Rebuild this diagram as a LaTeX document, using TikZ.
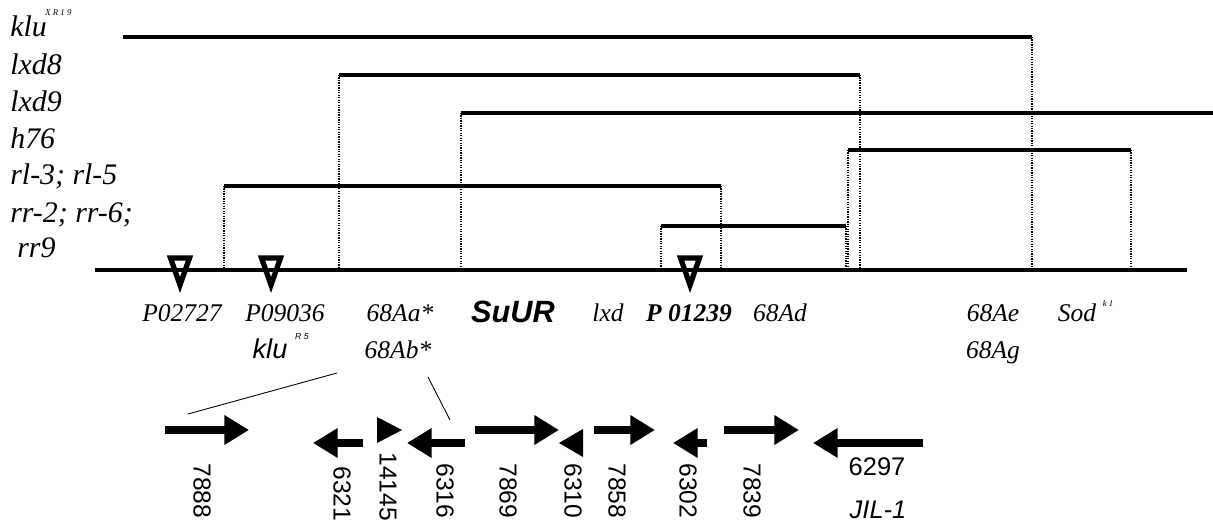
\documentclass[tikz,border=0pt]{standalone}
\usepackage{fontspec}
\setmainfont{Liberation Serif}
\setsansfont{Liberation Sans}
\usetikzlibrary{arrows.meta}
\definecolor{ink}{HTML}{000000}
\tikzset{
  strain/.style={font=\fontsize{17}{19}\selectfont\itshape, anchor=base west, inner sep=0pt},
  locus/.style={font=\fontsize{14.5}{17}\selectfont\itshape, anchor=base, inner sep=0pt},
  locusb/.style={font=\fontsize{14.5}{17}\selectfont\bfseries\itshape, anchor=base, inner sep=0pt},
  locussf/.style={font=\fontsize{15.5}{17}\selectfont\sffamily\itshape, anchor=base, inner sep=0pt},
  allele/.style={font=\fontsize{5}{6}\selectfont\itshape, inner sep=0pt},
  chrom/.style={draw=ink, line width=2.4pt},
  deletion/.style={draw=ink, line width=2pt},
  breakpt/.style={draw=ink, line width=1.3pt, dash pattern=on 0.7pt off 0.7pt},
  pinsert/.style={draw=ink, line width=3pt, miter limit=10},
  guide/.style={draw=ink, line width=0.5pt},
  gene/.style={draw=ink, line width=4pt, -{Triangle[length=14pt, width=16pt]}},
  stub/.style={fill=ink},
  cdna/.style={font=\fontsize{14}{16}\selectfont\sffamily, rotate=-90, anchor=west, inner sep=0pt}
}

\begin{document}
\begin{tikzpicture}[x=0.02cm, y=-0.02cm]
  \useasboundingbox (0,0) rectangle (1213,523);

  % ---- Deficiency names ----------------------------------------------------
  \node[strain] (klu)  at (10,37)  {klu};
  \node[allele, anchor=west] (kluxr) at (45,13) {X R 1 9};
  \node[strain] (lxd8) at (10,75)  {lxd8};
  \node[strain] (lxd9) at (10,112) {lxd9};
  \node[strain] (h76)  at (10,149) {h76};
  \node[strain] (rl)   at (10,185) {rl-3; rl-5};
  \node[strain] (rr)   at (10,223) {rr-2; rr-6;};
  \node[strain] (rr9)  at (17,258) {rr9};

  % ---- Chromosome ----------------------------------------------------------
  \draw[chrom] (95,270) -- (1187,270);

  % ---- Deleted segments ----------------------------------------------------
  \draw[deletion] (123,37) -- (1032,37);
  \draw[breakpt]  (1032,37) -- (1032,270);

  \draw[deletion] (339,75) -- (860,75);
  \draw[breakpt]  (339,75) -- (339,270);
  \draw[breakpt]  (860,75) -- (860,270);

  \draw[deletion] (461,113) -- (1213,113);
  \draw[breakpt]  (461,113) -- (461,270);

  \draw[deletion] (848,150) -- (1131,150);
  \draw[breakpt]  (848,150) -- (848,270);
  \draw[breakpt]  (1131,150) -- (1131,270);

  \draw[deletion] (224,186) -- (721,186);
  \draw[breakpt]  (224,186) -- (224,270);
  \draw[breakpt]  (721,186) -- (721,270);

  \draw[deletion] (661,226) -- (846,226);
  \draw[breakpt]  (661,226) -- (661,270);
  \draw[breakpt]  (846,226) -- (846,270);

  % ---- P insertions --------------------------------------------------------
  \draw[pinsert] (170.5,258) -- (189.5,258) -- (180,285) -- cycle;
  \draw[pinsert] (261.5,258) -- (280.5,258) -- (271,285) -- cycle;
  \draw[pinsert] (680.5,258) -- (699.5,258) -- (690,285) -- cycle;

  % ---- Loci under the map --------------------------------------------------
  \node[locus]   (p02727) at (182,322) {P02727};
  \node[locus]   (p09036) at (285,322) {P09036};
  \node[locussf] (klur5)  at (270,358) {klu};
  \node[allele, font=\fontsize{5}{6}\selectfont\sffamily\itshape] (r5) at (302,337) {R 5};
  \node[locus]   (aa)     at (400,322) {68Aa*};
  \node[locus]   (ab)     at (398,358) {68Ab*};
  \node[font=\fontsize{17.5}{20}\selectfont\sffamily\bfseries\itshape, anchor=base, inner sep=0pt]
                 (suur)   at (513,323) {SuUR};
  \node[locus]   (lxd)    at (608,322) {lxd};
  \node[locusb]  (p01239) at (689,322) {P 01239};
  \node[locus]   (ad)     at (780,322) {68Ad};
  \node[locus]   (ae)     at (993,322) {68Ae};
  \node[locus]   (ag)     at (993,358) {68Ag};
  \node[locus]   (sod)    at (1077,322) {Sod};
  \node[allele]  (sodk1)  at (1108,303) {k 1};

  % ---- Zoom guides ---------------------------------------------------------
  \coordinate (zl1) at (337,373);
  \coordinate (zl2) at (188,414);
  \coordinate (zr1) at (428,377);
  \coordinate (zr2) at (450,420);
  \draw[guide] (zl1) -- (zl2);
  \draw[guide] (zr1) -- (zr2);

  % ---- Transcripts ---------------------------------------------------------
  \coordinate (t7888a) at (165,430);  \coordinate (t7888b) at (249,430);
  \coordinate (t6321a) at (363,443);  \coordinate (t6321b) at (313,443);
  \coordinate (t6316a) at (465,443);  \coordinate (t6316b) at (407,443);
  \coordinate (t7869a) at (475,430);  \coordinate (t7869b) at (559,430);
  \coordinate (t7858a) at (594,430);  \coordinate (t7858b) at (655,430);
  \coordinate (t6302a) at (707,443);  \coordinate (t6302b) at (673,443);
  \coordinate (t7839a) at (724,430);  \coordinate (t7839b) at (799,430);
  \coordinate (t6297a) at (923,443);  \coordinate (t6297b) at (813,443);

  \draw[gene] (t7888a) -- (t7888b);
  \draw[gene] (t6321a) -- (t6321b);
  \draw[gene] (t6316a) -- (t6316b);
  \draw[gene] (t7869a) -- (t7869b);
  \draw[gene] (t7858a) -- (t7858b);
  \draw[gene] (t6302a) -- (t6302b);
  \draw[gene] (t7839a) -- (t7839b);
  \draw[gene] (t6297a) -- (t6297b);

  % short ones: head only
  \fill[stub] (377,417) -- (402,430) -- (377,443) -- cycle;
  \fill[stub] (559,443) -- (583,429) -- (583,457) -- cycle;

  % ---- cDNA numbers --------------------------------------------------------
  \node[cdna] (c7888)  at (202,463) {7888};
  \node[cdna] (c6321)  at (342,466) {6321};
  \node[cdna] (c14145) at (388,452) {14145};
  \node[cdna] (c6316)  at (445,463) {6316};
  \node[cdna] (c7869)  at (508,463) {7869};
  \node[cdna] (c6310)  at (573,463) {6310};
  \node[cdna] (c7858)  at (617,463) {7858};
  \node[cdna] (c6302)  at (688,463) {6302};
  \node[cdna] (c7839)  at (752,463) {7839};
  \node[font=\fontsize{14.5}{16}\selectfont\sffamily, inner sep=0pt] (c6297) at (877,467) {6297};
  \node[font=\fontsize{14.5}{16}\selectfont\sffamily\itshape, inner sep=0pt] (jil) at (878,510) {JIL-1};

\end{tikzpicture}
\end{document}
